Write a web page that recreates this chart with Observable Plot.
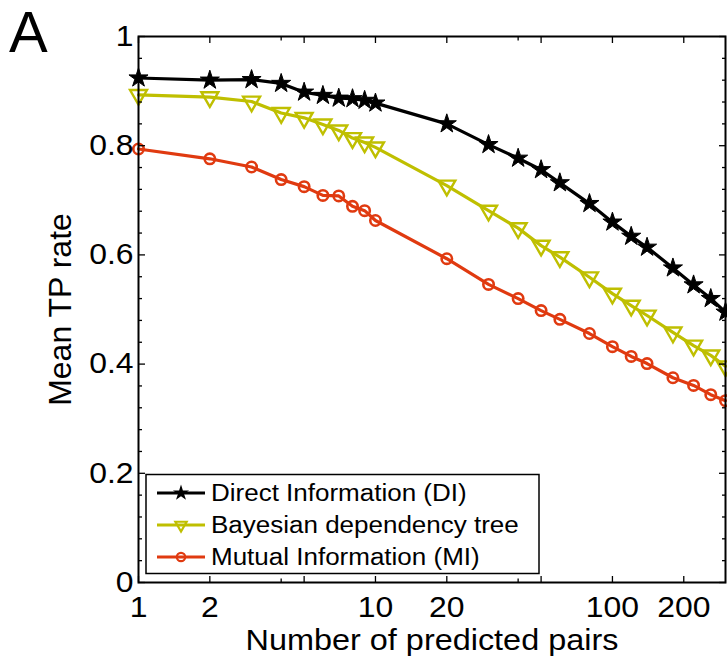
<!DOCTYPE html>
<html><head><meta charset="utf-8">
<script src="https://cdn.jsdelivr.net/npm/d3@7"></script>
<script src="https://cdn.jsdelivr.net/npm/@observablehq/plot@0.6"></script>
<style>
body{margin:0;background:#fff;}
#wrap{position:relative;width:727px;height:661px;font-family:"Liberation Sans",Arial,Helvetica,sans-serif;}
#overlay{position:absolute;left:0;top:0;pointer-events:none;}
</style></head><body><div id="wrap"></div>
<script>
// ---- data ----
const pairs = [1,2,3,4,5,6,7,8,9,10,20,30,40,50,60,80,100,120,140,180,220,260,300];
const diRate  = [0.924,0.920,0.921,0.914,0.898,0.892,0.887,0.886,0.883,0.878,0.840,0.802,0.777,0.756,0.732,0.694,0.660,0.634,0.614,0.576,0.545,0.520,0.495];
const bdtRate = [0.893,0.889,0.881,0.860,0.851,0.839,0.828,0.814,0.806,0.797,0.727,0.681,0.649,0.617,0.596,0.559,0.529,0.507,0.489,0.458,0.434,0.416,0.396];
const miRate  = [0.794,0.776,0.761,0.738,0.725,0.709,0.708,0.689,0.681,0.663,0.593,0.546,0.520,0.498,0.482,0.456,0.432,0.414,0.401,0.375,0.361,0.344,0.333];
const seriesNames = ["Direct Information (DI)", "Bayesian dependency tree", "Mutual Information (MI)"];
const seriesColors = ["#000000", "#bfbf00", "#e03a10"];
const xMajorTicks = [1,2,5,10,20,50,100,200];
const xMinorTicks = [4,40];
const yMajorTicks = [0,0.2,0.4,0.6,0.8,1];
const yMinorTicks = [0.04,0.08,0.12,0.16,0.24,0.28,0.32,0.36,0.44,0.48,0.52,0.56,0.64,0.68,0.72,0.76,0.84,0.88,0.92,0.96];
const xLabel = "Number of predicted pairs";
const yLabel = "Mean TP rate";
const panelLetter = "A";

// ---- build table ----
const seriesValues = [diRate, bdtRate, miRate];
const rows = [];
seriesNames.forEach((name, i) => pairs.forEach((p, j) => rows.push({series: name, x: p, y: seriesValues[i][j]})));
const bySeries = name => rows.filter(d => d.series === name);

const font = '"Liberation Sans", Arial, Helvetica, sans-serif';
const tickFs = 29;

const chart = Plot.plot({
  width: 727, height: 661,
  marginLeft: 138, marginRight: 2, marginTop: 36, marginBottom: 79,
  style: {fontFamily: font, fontSize: tickFs + "px", color: "black", background: "white", overflow: "visible"},
  x: {type: "log", domain: [1, 300]},
  y: {domain: [0, 1]},
  color: {domain: seriesNames, range: seriesColors},
  marks: [
    Plot.line(rows, {x: "x", y: "y", z: "series", stroke: "series", strokeWidth: 3.2}),
    Plot.dot(bySeries(seriesNames[0]), {x: "x", y: "y", symbol: "star", r: 6, fill: seriesColors[0], stroke: seriesColors[0], strokeWidth: 1}),
    Plot.dot(bySeries(seriesNames[1]), {x: "x", y: "y", symbol: "triangle", rotate: 180, r: 6.3, fill: "none", stroke: seriesColors[1], strokeWidth: 2.4}),
    Plot.dot(bySeries(seriesNames[2]), {x: "x", y: "y", symbol: "circle", r: 5.2, fill: "none", stroke: seriesColors[2], strokeWidth: 2.6}),
    // tick marks (inward)
    Plot.axisX(xMajorTicks, {anchor: "bottom", tickSize: -6, fill: "none", label: null, strokeWidth: 1.3}),
    Plot.axisX(xMinorTicks, {anchor: "bottom", tickSize: -3.5, fill: "none", label: null, strokeWidth: 1.3}),
    Plot.axisX(xMajorTicks, {anchor: "top", tickSize: -6, fill: "none", label: null, strokeWidth: 1.3}),
    Plot.axisX(xMinorTicks, {anchor: "top", tickSize: -3.5, fill: "none", label: null, strokeWidth: 1.3}),
    Plot.axisY(yMajorTicks, {anchor: "left", tickSize: -7, fill: "none", label: null, strokeWidth: 1.3}),
    Plot.axisY(yMinorTicks, {anchor: "left", tickSize: -4, fill: "none", label: null, strokeWidth: 1.3}),
    Plot.axisY(yMajorTicks, {anchor: "right", tickSize: -7, fill: "none", label: null, strokeWidth: 1.3}),
    Plot.axisY(yMinorTicks, {anchor: "right", tickSize: -4, fill: "none", label: null, strokeWidth: 1.3}),
    // labels
    Plot.axisX(xMajorTicks, {anchor: "bottom", tickSize: 0, tickPadding: 14, tickFormat: d => String(d), fontSize: tickFs,
      label: null}),
    Plot.axisX([], {anchor: "bottom", tickSize: 0, fontSize: 30,
      label: xLabel, labelAnchor: "center", labelArrow: "none", labelOffset: 67}),
    Plot.axisY(yMajorTicks, {anchor: "left", tickSize: 0, tickPadding: 5, tickFormat: d => String(d), fontSize: tickFs,
      label: null}),
    Plot.axisY([], {anchor: "left", tickSize: 0, fontSize: 32,
      label: yLabel, labelAnchor: "center", labelArrow: "none", labelOffset: 90}),
    Plot.frame({stroke: "black", strokeWidth: 2})
  ]
});
const wrap = document.getElementById("wrap");
wrap.appendChild(chart);

// the reference's lettering is slightly wide: stretch horizontal texts a little
function widen(sel, k) {
  d3.select(chart).selectAll(sel).each(function() {
    const len = this.getComputedTextLength();
    if (len > 0) { this.setAttribute("textLength", len * k); this.setAttribute("lengthAdjust", "spacingAndGlyphs"); }
  });
}
widen('g[aria-label="x-axis tick label"] text', 1.1);
widen('g[aria-label="y-axis tick label"] text', 1.1);
widen('g[aria-label="x-axis label"] text', 1.08);

// ---- overlay: panel letter + legend ----
const ov = d3.select(wrap).append("svg").attr("id", "overlay").attr("width", 727).attr("height", 661)
  .style("font-family", font);
ov.append("text").attr("x", 9).attr("y", 52).attr("font-size", 58).attr("fill", "black").text(panelLetter);

const lg = ov.append("g");
lg.append("rect").attr("x", 146).attr("y", 474.5).attr("width", 393).attr("height", 99)
  .attr("fill", "white").attr("stroke", "black").attr("stroke-width", 1.5);
const rowY = [493, 525, 557];
const symbols = [d3.symbol(d3.symbolStar, 80), d3.symbol(d3.symbolTriangle, 55), null];
seriesNames.forEach((name, i) => {
  const g = lg.append("g").attr("transform", `translate(0,${rowY[i]})`);
  g.append("line").attr("x1", 157).attr("x2", 205).attr("y1", 0).attr("y2", 0)
    .attr("stroke", seriesColors[i]).attr("stroke-width", 3);
  if (i === 0) g.append("path").attr("d", symbols[0]()).attr("transform", "translate(181,0)").attr("fill", "black");
  else if (i === 1) g.append("path").attr("d", symbols[1]()).attr("transform", "translate(181,0) rotate(180)")
    .attr("fill", "none").attr("stroke", seriesColors[1]).attr("stroke-width", 2.2);
  else g.append("circle").attr("cx", 181).attr("cy", 0).attr("r", 4.2).attr("fill", "none")
    .attr("stroke", seriesColors[2]).attr("stroke-width", 2.2);
  const t = g.append("text").attr("x", 211).attr("y", 0).attr("dy", "0.35em").attr("font-size", 23.5).attr("fill", "black").text(name);
  const node = t.node(), len = node.getComputedTextLength();
  t.attr("textLength", len * 1.106).attr("lengthAdjust", "spacingAndGlyphs");
});
</script>
</body></html>
